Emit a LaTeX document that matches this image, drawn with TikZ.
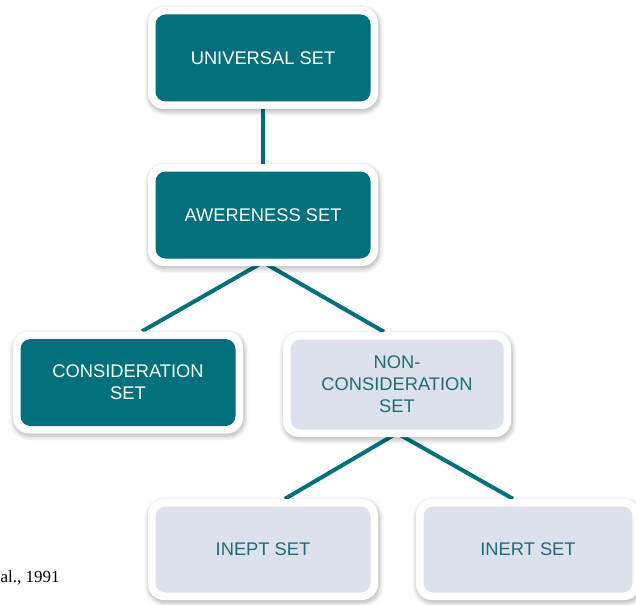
\documentclass[tikz,border=0pt]{standalone}
\usepackage{fontspec}
\setmainfont{Liberation Sans}
\newfontfamily\citefont{Liberation Serif}
\usetikzlibrary{shadows.blur,backgrounds}
\definecolor{tealdark}{HTML}{00707C}
\definecolor{paleblue}{HTML}{DCE1EC}
\definecolor{tealtext}{HTML}{1E6C78}
\tikzset{
  % a white rounded frame with a soft shadow, filled inside with #1
  setbox/.style={rectangle, rounded corners=16pt, fill=white, draw=none,
    minimum width=230pt, minimum height=102pt, align=center, inner sep=0pt,
    font=\fontsize{18.3}{22}\selectfont,
    blur shadow={shadow xshift=1pt, shadow yshift=-2.5pt, shadow blur steps=10,
      shadow opacity=32, shadow blur radius=5pt},
    path picture={\fill[#1, rounded corners=10pt]
      ([xshift=7.5pt,yshift=-7.5pt]path picture bounding box.north west) rectangle
      ([xshift=-7.5pt,yshift=7.5pt]path picture bounding box.south east);}},
  darkset/.style={setbox=tealdark, text=white},
  lightset/.style={setbox=paleblue, text=tealtext},
  link/.style={draw=tealdark, line width=4pt}
}
\begin{document}
\begin{tikzpicture}[x=1pt, y=-1pt]
\useasboundingbox (0,0) rectangle (636,604);

% the six sets of the hierarchy
\node[darkset] (uni) at (263,58) {UNIVERSAL SET};
\node[darkset] (aw) at (263,215) {AWERENESS SET};
\node[darkset] (cons) at (128,382.5) {CONSIDERATION\\SET};
\node[lightset, minimum width=228pt, minimum height=105pt] (ncons) at (397,384.5) {NON-\\CONSIDERATION\\SET};
\node[lightset, minimum height=101pt] (inept) at (263,549.5) {INEPT SET};
\node[lightset, minimum width=224pt, minimum height=101pt] (inert) at (528,549.5) {INERT SET};

% tree links, kept underneath the boxes
\begin{pgfonlayer}{background}
  \draw[link] (uni.center) -- (aw.center);
  \draw[link] ([yshift=4pt]aw.south) -- ([xshift=14pt]cons.north);
  \draw[link] ([yshift=4pt]aw.south) -- ([xshift=-13pt]ncons.north);
  \draw[link] ([yshift=4pt]ncons.south) -- ([xshift=22pt]inept.north);
  \draw[link] ([yshift=4pt]ncons.south) -- ([xshift=-15pt]inert.north);
\end{pgfonlayer}

\node[font=\citefont\fontsize{17}{20}\selectfont, anchor=base west, inner sep=0pt] (cite) at (0.5,582) {al., 1991};
\end{tikzpicture}
\end{document}
